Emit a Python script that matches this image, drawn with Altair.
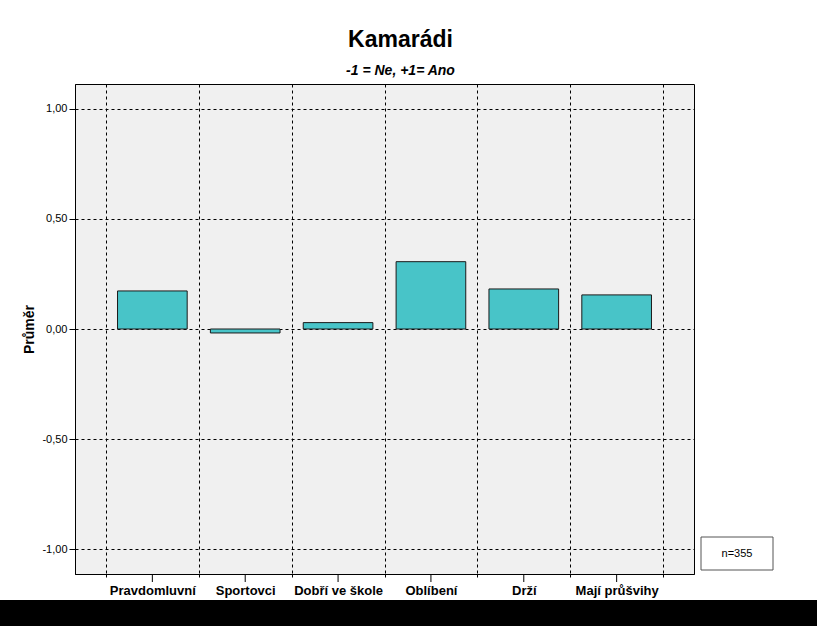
import altair as alt
import pandas as pd

categories = ["Pravdomluvní", "Sportovci", "Dobří ve škole", "Oblíbení", "Drží", "Mají průšvihy"]
means = [0.173, -0.018, 0.029, 0.306, 0.182, 0.155]
n_total = [355]
y_ticks = [-1.0, -0.5, 0.0, 0.5, 1.0]

df = pd.DataFrame({"kategorie": categories, "prumer": means})
info = pd.DataFrame({"n": n_total})
strip = pd.DataFrame({"k": [0]})

FONT = "Liberation Sans"

x_scale = alt.Scale(paddingInner=0, paddingOuter=0.333)
x_enc = alt.X(
    "kategorie:N",
    sort=categories,
    scale=x_scale,
    axis=alt.Axis(
        title=None,
        labelAngle=0,
        labelFont=FONT,
        labelFontWeight="bold",
        labelFontSize=13,
        labelColor="black",
        labelPadding=4,
        grid=True,
        gridColor="black",
        gridDash=[3, 3],
        gridOpacity=1,
        tickBand="extent",
        tickColor="black",
        tickDash=[3, 3],
        tickSize=6,
        domainColor="black",
    ),
)

y_enc = alt.Y(
    "prumer:Q",
    scale=alt.Scale(domain=[-1.1136, 1.1136], nice=False, zero=False),
    axis=alt.Axis(
        title="Průměr",
        titleFont=FONT,
        titleFontWeight="bold",
        titleFontSize=14,
        titleColor="black",
        titlePadding=5,
        values=y_ticks,
        labelExpr="(datum.value < 0 ? '-' : '') + replace(format(abs(datum.value), '.2f'), '.', ',')",
        labelFont=FONT,
        labelFontSize=11,
        labelColor="black",
        labelPadding=2,
        grid=True,
        gridColor="black",
        gridDash=[3, 3],
        gridOpacity=1,
        tickColor="black",
        tickSize=6,
        domainColor="black",
    ),
)

bars = alt.Chart(df).mark_bar(
    width=alt.RelativeBandSize(0.75),
    color="#48C4C8",
    stroke="#1a1a1a",
    strokeWidth=1,
).encode(x=x_enc, y=y_enc)

center_ticks = alt.Chart(df).mark_rule(color="black", strokeWidth=1).encode(
    x=alt.X("kategorie:N", sort=categories, scale=x_scale),
    y=alt.value(490),
    y2=alt.value(498),
)

box = alt.Chart(info).mark_rect(fill="white", stroke="#555555", strokeWidth=1).encode(
    x=alt.value(626), x2=alt.value(698), y=alt.value(453), y2=alt.value(486)
)
box_text = alt.Chart(info).transform_calculate(lab="'n=' + datum.n").mark_text(
    font=FONT, fontSize=11, color="black", align="center", baseline="middle"
).encode(x=alt.value(662), y=alt.value(470), text="lab:N")

black_strip = alt.Chart(strip).mark_rect(fill="black").encode(
    x=alt.value(-75), x2=alt.value(742), y=alt.value(516), y2=alt.value(542)
)

chart = alt.layer(bars, center_ticks, box, box_text, black_strip).properties(
    width=619,
    height=490,
    title=alt.TitleParams(
        text="Kamarádi",
        subtitle="-1 = Ne, +1= Ano",
        font=FONT,
        fontSize=23,
        fontWeight="bold",
        color="black",
        subtitleFont=FONT,
        subtitleFontSize=14,
        subtitleFontWeight="bold",
        subtitleFontStyle="italic",
        subtitleColor="black",
        subtitlePadding=12,
        anchor="middle",
        dx=16,
        offset=6,
    ),
    autosize=alt.AutoSizeParams(type="none"),
    padding={"left": 75, "top": 84, "right": 123, "bottom": 52},
    background="white",
).configure_view(
    fill="#F0F0F0", stroke="black", strokeWidth=1
)

chart.save("out.html", embed_options={"renderer": "svg", "actions": False})
